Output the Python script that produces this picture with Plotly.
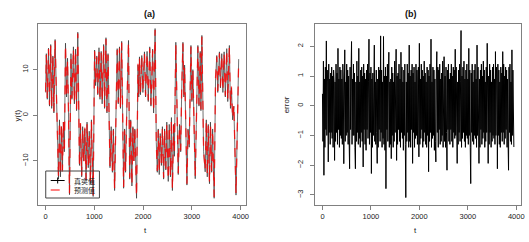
import plotly.graph_objects as go

# ---------------- data ----------------
# (a) turning points of the series y(t): time index and value
t_points = [0, 15, 35, 60, 80, 105, 125, 150, 170, 195,
            265, 285, 305, 325, 345, 365, 385, 408, 430, 450, 468,
            490, 520, 540, 571, 590, 615, 635, 660,
            695, 715, 740, 760, 785, 805, 830, 850, 875, 895, 920, 940, 975,
            1005, 1025, 1050, 1070, 1095, 1115, 1140, 1160, 1190, 1210, 1238, 1258, 1280,
            1320, 1345, 1370, 1390, 1415,
            1468, 1490, 1515, 1535, 1560,
            1600, 1620, 1640, 1660, 1700,
            1725, 1745, 1770, 1790, 1810, 1830, 1865,
            1895, 1910, 1925, 1945, 1972, 1995, 2027, 2050, 2081, 2105, 2135, 2160, 2195, 2215, 2245,
            2270, 2290, 2310, 2330, 2350, 2375, 2395, 2420, 2440, 2465, 2485, 2515, 2535, 2560, 2580,
            2600, 2625, 2640, 2670, 2695, 2720, 2745, 2770, 2790,
            2816, 2835, 2850, 2870, 2898, 2920, 2945, 2980, 3000, 3020, 3040, 3068, 3090, 3105,
            3122, 3145, 3170, 3185, 3204, 3240, 3272, 3295, 3315, 3335, 3360, 3380, 3405, 3425, 3456,
            3485, 3510, 3530, 3564, 3585, 3612, 3635, 3660, 3685, 3714, 3735, 3768, 3790, 3810,
            3835, 3860, 3904, 3935, 3959]
y_true = [5.0, 13.5, 3.5, 14.7, 2.0, 15.5, 1.5, 13.0, 0.5, 16.6,
          -14.0, -1.0, -13.5, -2.5, -12.0, -1.5, -8.0, 15.8, 4.0, 12.5, 2.0,
          -17.4, 13.5, 3.5, 15.0, 2.5, 14.5, 1.0, 18.2,
          -11.0, -2.0, -13.5, -2.5, -10.0, -3.0, -14.5, -1.5, -11.5, -3.5, -15.0, -1.0, -17.8,
          14.3, 6.5, 13.0, 4.5, 14.8, 3.5, 14.0, 2.5, 15.5, 1.5, 17.0, 0.5, 13.5,
          -11.5, -2.5, -12.5, -3.0, -16.5,
          14.6, 2.5, 15.0, 1.5, 16.2,
          -16.0, -3.0, -12.5, -1.0, 16.4,
          -14.0, -1.0, -15.5, -2.5, -10.0, -3.0, -18.2,
          11.0, 4.0, 12.8, 4.5, 13.1, 5.0, 13.9, 4.0, 14.0, 3.0, 15.0, 2.0, 14.5, 0.5, 19.0,
          -6.0, -12.5, -3.0, -13.0, -4.0, -11.0, -2.5, -14.0, -3.0, -12.0, -1.5, -14.5, -2.0, -13.5, -0.5,
          -16.5, -2.0, -9.0, 16.0, 3.0, -13.0, -2.0, -8.0, 5.0,
          16.0, 4.0, 11.0, 0.0, -15.3, -3.0, -7.0, 15.3, 3.0, 10.0, -1.0, -13.9, -2.0, 6.0,
          15.3, 2.0, 14.0, 1.0, 17.5, -8.0, -12.4, -1.0, -13.5, -2.0, -15.0, -1.5, -12.5, -3.0, -18.2,
          8.0, 13.1, 5.0, 13.9, 6.0, 13.5, 5.0, 13.9, 4.0, 14.6, 3.0, 15.3, 1.5, 6.0,
          -1.0, 2.0, -17.5, 0.0, 12.3]
y_pred = [5.2, 13.2, 3.8, 14.5, 2.3, 15.3, 1.8, 13.3, 0.8, 16.4,
          -13.7, -1.3, -13.2, -2.2, -12.3, -1.2, -8.3, 15.5, 4.3, 12.2, 2.3,
          -17.1, 13.2, 3.8, 14.7, 2.8, 14.2, 1.3, 17.9,
          -11.3, -1.7, -13.2, -2.8, -10.3, -2.7, -14.2, -1.8, -11.2, -3.8, -14.7, -1.3, -17.5,
          14.0, 6.8, 12.7, 4.8, 14.5, 3.8, 13.7, 2.8, 15.2, 1.8, 16.7, 0.8, 13.2,
          -11.2, -2.8, -12.2, -3.3, -16.2,
          14.3, 2.8, 14.7, 1.8, 15.9,
          -15.7, -3.3, -12.2, -1.3, 16.1,
          -13.7, -1.3, -15.2, -2.8, -10.3, -2.7, -17.9,
          11.3, 4.3, 12.5, 4.8, 12.8, 5.3, 13.6, 4.3, 13.7, 3.3, 14.7, 2.3, 14.2, 0.8, 18.7,
          -6.3, -12.2, -3.3, -12.7, -4.3, -10.7, -2.8, -13.7, -3.3, -11.7, -1.8, -14.2, -2.3, -13.2, -0.8,
          -16.2, -2.3, -8.7, 15.7, 3.3, -12.7, -2.3, -7.7, 5.3,
          15.7, 4.3, 10.7, 0.3, -15.0, -3.3, -6.7, 15.0, 3.3, 9.7, -0.7, -13.6, -2.3, 6.3,
          15.0, 2.3, 13.7, 1.3, 17.2, -7.7, -12.1, -1.3, -13.2, -2.3, -14.7, -1.8, -12.2, -3.3, -17.9,
          8.3, 12.8, 5.3, 13.6, 6.3, 13.2, 5.3, 13.6, 4.3, 14.3, 3.3, 15.0, 1.8, 6.3,
          -0.7, 2.3, -17.2, 0.3, 12.0]

# (b) prediction error, read every 10 time steps
err_t0 = 0
err_dt = 10
err_values = [
    0.4, -1.2, 1.5, -2.34, 0.9, -1.4, 1.3, -0.8, 2.18, -1.0, 0.8, 1.2, -1.89, 1.4, -0.9, 0.9, -1.3, 1.1, -0.9, 1.3,
    -1.1, 1.0, -1.4, 1.2, 0.8, -1.84, 0.8, -1.2, 1.4, -0.9, 1.1, -1.3, 1.93, -0.8, 0.9, -1.4, 1.3, -1.0, 1.2, -1.1,
    0.9, -1.3, 1.4, 0.9, -1.95, 1.0, 1.88, -1.2, 0.8, -1.0, 1.4, -0.9, 1.2, -1.3, 1.0, -1.1, -2.12, 1.3, -0.8, 1.1,
    2.16, -1.3, 0.9, -1.0, 1.4, -1.0, 1.1, -1.4, -2.12, 0.8, -1.2, 1.5, -0.9, 1.0, -1.3, 1.93, -1.1, 0.8, -1.4, 1.2,
    -0.9, 1.3, -1.2, 1.0, -2.06, 1.4, -0.8, 1.1, -1.3, 0.9, -1.5, 1.2, -0.8, 1.4, -1.1, 0.8, 2.24, -1.3, 1.1, -0.9,
    1.3, -2.28, 0.9, -1.4, 1.1, -1.0, 1.5, 2.04, -1.2, 0.8, -1.3, 1.2, -0.9, -1.94, 0.9, -1.4, 1.3, -0.8, 1.2, -1.2,
    2.35, -0.9, 1.2, -1.4, 0.8, -1.1, 2.33, -1.3, 1.0, -1.5, 1.3, -2.79, 1.0, -0.8, 1.4, -1.2, 0.9, 1.8, -1.4, 0.8,
    -1.3, 0.9, -1.78, 1.3, -1.0, 1.1, -1.4, 0.8, -1.2, 1.5, -0.9, 1.2, 1.9, -1.84, 1.0, -1.3, 1.1, -0.8, 1.4, -1.2,
    0.9, -1.4, 1.8, -0.9, 1.3, -1.1, 0.8, -1.5, 1.2, -1.0, 1.4, -1.3, -3.09, 0.8, -1.2, 1.4, -0.9, 1.1, -1.4, 2.04,
    -1.2, 1.0, -1.4, 1.2, -0.8, 1.4, -1.94, 1.1, -0.9, 1.3, -1.4, 0.8, -1.1, 1.4, -1.0, 1.2, -1.3, 0.9, 1.3, -1.72,
    2.1, -1.3, 0.9, -1.1, 1.4, -0.8, 1.2, -1.4, 1.0, -1.2, 1.5, -0.9, 1.1, -1.3, 0.8, -1.4, 1.3, -1.0, 1.2, -2.22,
    1.0, -1.2, 1.4, -0.9, 2.24, -1.4, 0.8, -1.1, 1.3, -1.0, 1.2, -1.5, 0.9, -1.2, -1.89, 1.1, 1.82, -0.9, 1.3, -1.4,
    1.2, -0.8, 1.4, -1.3, 0.9, -1.2, 1.1, -1.0, 1.5, -1.4, 0.8, 1.65, -1.2, 1.0, -1.4, 1.3, -0.9, -2.17, 1.2, -0.8,
    1.4, -1.2, 0.9, -1.3, 1.1, -0.8, 1.4, -1.2, 1.0, -1.4, 1.3, -0.9, 1.2, -1.1, 1.9, -1.0, 1.3, -1.4, -1.94, 0.8,
    -1.3, 1.2, -0.9, 1.4, -1.2, 0.8, 2.53, -1.4, 1.0, -1.1, 1.3, -0.9, 1.5, -1.2, 0.9, -1.4, 1.2, -1.0, 1.4, -1.1,
    0.9, -1.3, 1.93, -1.0, 1.2, -1.4, -2.62, 1.1, -0.9, 1.4, -1.2, 0.8, -1.3, 1.2, -1.0, 1.4, -1.1, 0.9, -1.4, 2.04,
    -1.0, 1.3, -1.2, -1.94, 0.9, -1.4, 1.2, -0.8, 1.4, -1.3, 1.0, -1.1, 1.5, -0.9, 1.2, -1.4, 0.8, -1.2, 1.3, -0.9,
    2.1, -1.2, -1.94, 1.0, -1.3, 1.4, -0.9, 1.2, -1.4, 0.8, -1.2, 1.3, -1.0, 1.4, -1.1, 0.9, -1.3, 1.82, -1.0, 1.3,
    0.9, -2.12, 1.4, -1.0, 1.2, -1.3, 0.8, -1.4, 1.3, -0.9, 1.1, -1.2, 1.82, -0.9, 1.4, -1.3, 1.0, -1.1, 1.3, -0.8,
    1.2, -1.4, 0.9, -1.2, -2.17, 1.3, -0.9, 1.4, -1.2, 0.8, -1.3, 1.88, -1.0, 1.2, -1.1, -1.39,
]
err_t = [err_t0 + i * err_dt for i in range(len(err_values))]

x_ticks = [0, 1000, 2000, 3000, 4000]
ya_ticks = [-10, 0, 10]
yb_ticks = [-3, -2, -1, 0, 1, 2]
legend_labels = ["真实值", "预测值"]

# ---------------- figure ----------------
W, H = 529, 242
def px(x):
    return x / W
def py(y):
    return 1 - y / H

fig = go.Figure()
fig.add_trace(go.Scatter(x=t_points, y=y_true, mode="lines", name=legend_labels[0],
                         line=dict(color="#333333", width=0.7), xaxis="x", yaxis="y",
                         showlegend=False))
fig.add_trace(go.Scatter(x=t_points, y=y_pred, mode="lines", name=legend_labels[1],
                         line=dict(color="rgba(255,0,0,0.8)", width=1.3, dash="dash"),
                         xaxis="x", yaxis="y", showlegend=False))
fig.add_trace(go.Scatter(x=err_t, y=err_values, mode="lines", name="error",
                         line=dict(color="black", width=1.0), xaxis="x2", yaxis="y2",
                         showlegend=False))

axis_common = dict(showline=True, mirror=True, linecolor="#808080", linewidth=1,
                   ticks="outside", ticklen=4, tickcolor="#808080", tickwidth=1,
                   showgrid=False, zeroline=False,
                   tickfont=dict(family="Liberation Sans, Arial", size=7.5, color="#222"))

fig.update_layout(
    width=W, height=H, margin=dict(l=0, r=0, t=0, b=0),
    paper_bgcolor="white", plot_bgcolor="white", showlegend=False,
    xaxis=dict(domain=[px(38), px(247.7)], range=[-160, 4115], tickvals=x_ticks,
               anchor="y", **axis_common),
    yaxis=dict(domain=[py(204.7), py(24)], range=[-19.6, 20.0], tickvals=ya_ticks,
               tickangle=-90, anchor="x", ticklabelstandoff=2, **axis_common),
    xaxis2=dict(domain=[px(316.7), px(524.3)], range=[-156, 4104], tickvals=x_ticks,
                anchor="y2", **axis_common),
    yaxis2=dict(domain=[py(204.7), py(24)], range=[-3.33, 2.75], tickvals=yb_ticks,
                tickangle=-90, anchor="x2", ticklabelstandoff=4, **axis_common),
)

ann_font = dict(family="Liberation Sans, Arial", size=8, color="#222")
title_font = dict(family="Liberation Sans, Arial", size=9, color="#111")
leg_font = dict(family="Noto Sans CJK SC", size=7, color="#222")
annotations = [
    dict(text="<b>(a)</b>", x=px(142.7), y=py(7), showarrow=False, font=title_font),
    dict(text="<b>(b)</b>", x=px(421.7), y=py(7), showarrow=False, font=title_font),
    dict(text="t", x=px(142.7), y=py(237), showarrow=False, font=ann_font),
    dict(text="t", x=px(421.7), y=py(237), showarrow=False, font=ann_font),
    dict(text="y(t)", x=px(11), y=py(115), showarrow=False, textangle=-90, font=ann_font),
    dict(text="error", x=px(288), y=py(105), showarrow=False, textangle=-90, font=ann_font),
    dict(text=legend_labels[0], x=px(73), y=py(180.5), xanchor="left", yanchor="middle",
         showarrow=False, borderpad=0, font=leg_font),
    dict(text=legend_labels[1], x=px(73), y=py(190), xanchor="left", yanchor="middle",
         showarrow=False, borderpad=0, font=leg_font),
]
for a in annotations:
    a.update(xref="paper", yref="paper")
fig.update_layout(annotations=annotations)

shapes = [
    dict(type="rect", x0=px(46), x1=px(100), y0=py(198), y1=py(171),
         line=dict(color="#444", width=1), fillcolor="rgba(255,255,255,0)"),
    dict(type="line", x0=px(51), x1=px(65), y0=py(180.5), y1=py(180.5), line=dict(color="black", width=1)),
    dict(type="line", x0=px(58), x1=px(58), y0=py(177.5), y1=py(183.5), line=dict(color="black", width=1)),
    dict(type="line", x0=px(51), x1=px(65), y0=py(190), y1=py(190), line=dict(color="red", width=1, dash="dash")),
]
for s in shapes:
    s.update(xref="paper", yref="paper")
fig.update_layout(shapes=shapes)

fig.write_html("out.html", config={"displayModeBar": False},
               post_script="document.body.style.margin='0';document.body.style.overflow='hidden';")
